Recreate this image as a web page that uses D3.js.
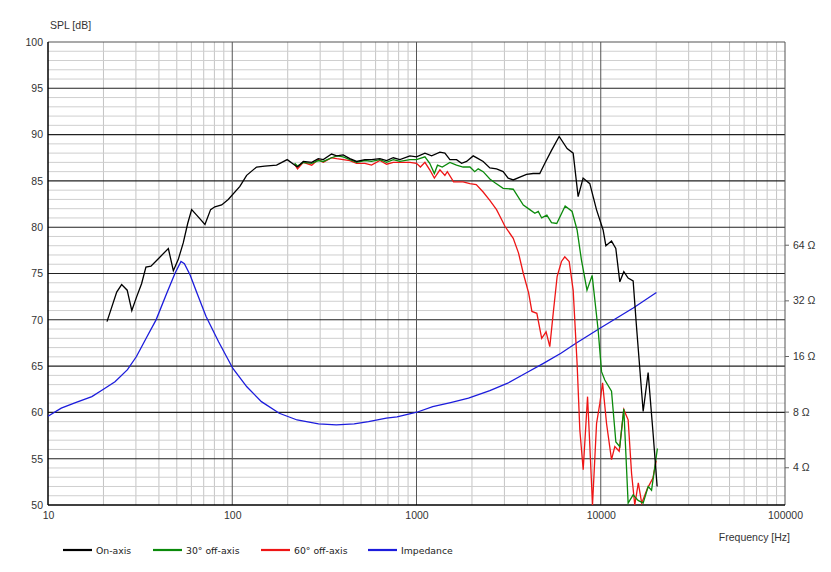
<!DOCTYPE html>
<html><head><meta charset="utf-8">
<script src="https://cdn.jsdelivr.net/npm/d3@7"></script>
<style>
html,body{margin:0;padding:0;background:#fff;}
svg{display:block;}
.tick text{font-family:"Liberation Sans",Arial,sans-serif;font-size:10.5px;fill:#333;}
.lab{font-family:"Liberation Sans",Arial,sans-serif;font-size:10.5px;fill:#333;}
.leg{font-family:"DejaVu Sans",Verdana,sans-serif;font-size:9.3px;fill:#222;}
</style></head>
<body>
<script>
// ---- data ----
const xTicks = [10, 100, 1000, 10000, 100000];
const yTicks = [50, 55, 60, 65, 70, 75, 80, 85, 90, 95, 100];
const zTicks = [4, 8, 16, 32, 64];
const seriesNames = ["On-axis", "30° off-axis", "60° off-axis", "Impedance"];

const onAxis = [[20.9,69.8],[23.6,73.0],[25.1,73.8],[26.9,73.2],[28.5,71.0],[30.3,72.5],[32.2,73.9],[34.0,75.7],[36.2,75.8],[39.7,76.6],[45.0,77.7],[47.9,75.3],[50.9,76.5],[54.2,78.3],[57.3,80.4],[60.2,81.9],[64.1,81.3],[71.1,80.3],[76.3,81.9],[80.5,82.2],[87.6,82.4],[95.1,83.0],[110,84.4],[119.7,85.6],[135.6,86.5],[150,86.6],[174,86.7],[198.8,87.3],[218.8,86.7],[226,86.5],[243,87.1],[270,87.0],[293,87.4],[312,87.3],[346,87.9],[369,87.7],[400,87.8],[435,87.4],[473,87.1],[525,87.3],[570,87.3],[633,87.4],[688,87.2],[748,87.5],[813,87.3],[921,87.7],[1000,87.6],[1111,88.0],[1208,87.7],[1340,88.1],[1426,88.0],[1518,87.3],[1649,87.3],[1757,86.9],[1870,87.1],[2031,87.7],[2162,87.4],[2301,87.1],[2501,86.4],[2719,86.3],[2953,86.0],[3144,85.3],[3350,85.1],[3640,85.4],[3955,85.7],[4296,85.8],[4667,85.8],[4974,86.9],[5405,88.3],[5946,89.8],[6571,88.5],[7085,88.0],[7537,83.3],[8020,85.3],[8722,84.7],[9480,81.9],[10300,79.7],[10660,78.0],[11440,78.5],[12070,77.7],[12690,74.1],[13340,75.2],[14080,74.5],[14990,74.2],[15600,69.5],[16990,60.1],[18080,64.3],[19240,57.7],[20230,52.0]];

const offAxis30 = [[218,86.9],[226,86.6],[243,87.0],[270,86.9],[293,87.2],[312,87.1],[346,87.5],[369,87.7],[400,87.6],[435,87.3],[473,87.0],[525,87.2],[570,87.1],[633,87.3],[688,87.0],[748,87.3],[813,87.1],[921,87.3],[1000,87.3],[1111,87.6],[1180,86.9],[1250,85.8],[1300,86.7],[1380,86.5],[1518,87.0],[1649,86.7],[1790,86.5],[1950,86.5],[2070,86.0],[2162,86.3],[2300,86.0],[2501,85.2],[2666,84.8],[2953,84.2],[3350,84.1],[3800,82.4],[4120,81.9],[4390,81.5],[4580,81.7],[4780,81.0],[5100,81.3],[5405,80.5],[5770,80.4],[6410,82.3],[6990,81.7],[7440,79.7],[7850,76.5],[8420,73.2],[8980,74.8],[9680,68.9],[10100,64.4],[10520,63.5],[11440,62.3],[12080,56.8],[12690,56.3],[13340,60.4],[14080,50.2],[14990,51.1],[15950,50.5],[16990,50.2],[18090,52.0],[18870,51.6],[20300,56.1]];

const offAxis60 = [[218,86.8],[226,86.3],[243,87.0],[270,86.7],[293,87.3],[312,87.0],[346,87.5],[369,87.4],[400,87.3],[435,87.2],[473,86.9],[525,86.9],[570,86.7],[633,87.2],[688,86.8],[748,87.0],[813,87.0],[921,87.0],[1000,86.9],[1050,86.5],[1111,87.0],[1180,86.2],[1250,85.3],[1340,86.2],[1426,85.6],[1470,86.0],[1590,84.9],[1790,84.9],[1950,84.7],[2110,84.6],[2300,83.8],[2500,82.9],[2719,81.9],[2900,80.8],[3019,80.1],[3350,78.8],[3580,77.2],[3800,75.0],[4060,72.9],[4230,70.9],[4500,70.7],[4780,68.0],[5050,68.7],[5290,67.1],[5520,70.7],[5800,74.7],[6120,76.3],[6380,76.8],[6740,76.3],[7085,73.2],[7440,65.3],[7700,58.1],[8030,53.8],[8480,61.7],[8730,56.3],[9020,50.0],[9490,58.8],[9890,61.0],[10230,63.2],[10750,58.8],[11440,54.9],[11920,56.3],[12590,55.8],[13340,60.3],[14080,59.2],[14700,53.4],[15300,50.0],[15990,52.4],[16680,50.2],[17930,51.8],[19190,52.9],[20000,54.8]];

const impedance = [[10,7.55],[11.8,8.35],[14.1,8.95],[17.3,9.65],[19.8,10.5],[23.1,11.6],[27.0,13.5],[30.2,15.9],[34.5,20.4],[38.6,25.1],[44.1,35.0],[48.9,44.9],[52.7,51.9],[55,50.5],[59.0,44.0],[64.4,35.0],[72.1,26.2],[84.3,19.1],[100.8,13.7],[120,10.9],[144,9.06],[180,7.84],[225,7.21],[294,6.87],[367,6.78],[459,6.87],[549,7.06],[686,7.37],[784,7.5],[1004,7.94],[1225,8.51],[1531,8.95],[1915,9.46],[2500,10.4],[3126,11.4],[3908,12.9],[4887,14.6],[6110,16.6],[7300,18.7],[9950,22.7],[15000,29.1],[20050,35.3]];

// ---- layout ----
const W = 831, H = 572;
const L = 48, R = 785, T = 42, B = 505;
const colors = ["#000000", "#0b8a0b", "#ee1515", "#1c1cdc"];

const svg = d3.select("body").append("svg").attr("width", W).attr("height", H);

const x = d3.scaleLog().domain([10, 100000]).range([L, R]);
const y = d3.scaleLinear().domain([50, 100]).range([B, T]);
const z = d3.scaleLog().domain([2.5, 800]).range([B, T]);

// grid
const g = svg.append("g");
const minorX = [];
for (let k = 1; k <= 4; k++) for (let d = 2; d <= 9; d++) minorX.push(d * Math.pow(10, k));
g.selectAll(".mx").data(minorX).enter().append("line")
  .attr("x1", d => x(d)).attr("x2", d => x(d)).attr("y1", T).attr("y2", B)
  .attr("stroke", "#c4c4c4").attr("stroke-width", 1);
const minorY = d3.range(51, 100).filter(v => v % 5 !== 0);
g.selectAll(".my").data(minorY).enter().append("line")
  .attr("x1", L).attr("x2", R).attr("y1", d => y(d)).attr("y2", d => y(d))
  .attr("stroke", "#cfcfcf").attr("stroke-width", 1);
g.selectAll(".My").data(yTicks.filter(v => v > 50)).enter().append("line")
  .attr("x1", L).attr("x2", R).attr("y1", d => y(d)).attr("y2", d => y(d))
  .attr("stroke", d => d === 100 ? "#555" : "#222").attr("stroke-width", 1.1);
g.selectAll(".Mx").data(xTicks.filter(v => v > 10)).enter().append("line")
  .attr("x1", d => x(d)).attr("x2", d => x(d)).attr("y1", T).attr("y2", B)
  .attr("stroke", "#555").attr("stroke-width", 1);

// axes
const ax = svg.append("g").attr("transform", `translate(0,${B})`)
  .call(d3.axisBottom(x).tickValues(xTicks).tickFormat(d3.format("d")).tickSize(0).tickPadding(7));
ax.select(".domain").remove();
const ay = svg.append("g").attr("transform", `translate(${L},0)`)
  .call(d3.axisLeft(y).tickValues(yTicks).tickFormat(d3.format("d")).tickSize(0).tickPadding(5));
ay.select(".domain").remove();
const az = svg.append("g").attr("transform", `translate(${R},0)`)
  .call(d3.axisRight(z).tickValues(zTicks).tickFormat(d => d + " Ω").tickSize(4).tickPadding(4));
az.select(".domain").remove();
az.selectAll(".tick line").attr("stroke", "#666");

svg.append("line").attr("x1", L).attr("x2", L).attr("y1", T).attr("y2", B).attr("stroke", "#000").attr("stroke-width", 1.5);
svg.append("line").attr("x1", L).attr("x2", R).attr("y1", B).attr("y2", B).attr("stroke", "#000").attr("stroke-width", 1.5);

svg.append("text").attr("class", "lab").attr("x", 50).attr("y", 29).text("SPL [dB]");
svg.append("text").attr("class", "lab").attr("x", 790).attr("y", 541).attr("text-anchor", "end").text("Frequency [Hz]");

// curves
svg.append("clipPath").attr("id", "clip").append("rect")
  .attr("x", L).attr("y", T).attr("width", R - L).attr("height", B - T + 1);
const cg = svg.append("g").attr("clip-path", "url(#clip)");
const splLine = d3.line().x(d => x(d[0])).y(d => y(d[1]));
const zLine = d3.line().x(d => x(d[0])).y(d => z(d[1]));
cg.append("path").datum(impedance).attr("d", zLine).attr("fill", "none").attr("stroke", colors[3]).attr("stroke-width", 1.3);
cg.append("path").datum(offAxis60).attr("d", splLine).attr("fill", "none").attr("stroke", colors[2]).attr("stroke-width", 1.3);
cg.append("path").datum(offAxis30).attr("d", splLine).attr("fill", "none").attr("stroke", colors[1]).attr("stroke-width", 1.3);
cg.append("path").datum(onAxis).attr("d", splLine).attr("fill", "none").attr("stroke", colors[0]).attr("stroke-width", 1.3);

// legend
const legX = [63, 153, 261, 368];
const lg = svg.append("g");
seriesNames.forEach((n, i) => {
  lg.append("line").attr("x1", legX[i]).attr("x2", legX[i] + 29).attr("y1", 550).attr("y2", 550)
    .attr("stroke", colors[i]).attr("stroke-width", 2.2);
  lg.append("text").attr("class", "leg").attr("x", legX[i] + 33).attr("y", 553.5).text(n);
});
</script>
</body></html>
